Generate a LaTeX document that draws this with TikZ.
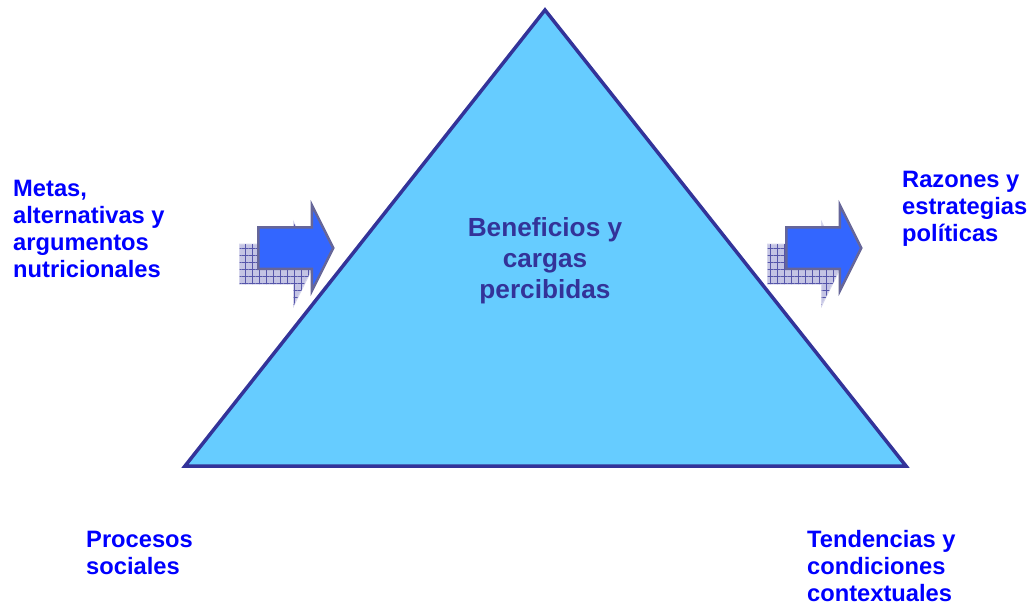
\documentclass[tikz,border=0pt]{standalone}
\usepackage{fontspec}
\setmainfont{Liberation Sans}
\usepackage{xcolor}
\usepackage{tikz}
\usetikzlibrary{shapes.arrows, patterns.meta}

\definecolor{txtblue}{HTML}{0000FF}
\definecolor{darkblue}{HTML}{333399}
\definecolor{skyblue}{HTML}{66CCFF}
\definecolor{arrowblue}{HTML}{3366FF}
\definecolor{arrowedge}{HTML}{666699}
\definecolor{shadowbg}{HTML}{C4C4E4}
\definecolor{shadowgrid}{HTML}{5555AA}

\begin{document}
\begin{tikzpicture}[
    x=1pt, y=-1pt,
    label/.style={font=\bfseries\fontsize{23.7}{27}\selectfont, text=txtblue, align=left, inner sep=0pt, anchor=north west},
    title/.style={font=\bfseries\fontsize{26.2}{31}\selectfont, text=darkblue, align=center, inner sep=0pt, anchor=north},
    blockarrow/.style={single arrow, minimum height=75pt, inner xsep=0pt, inner ysep=19.5pt,
        single arrow head extend=22pt, single arrow tip angle=127, anchor=tail},
    front/.style={blockarrow, fill=arrowblue, draw=arrowedge, line width=2.5pt},
    shadow/.style={blockarrow, fill=shadowbg, draw=shadowbg!70!white, line width=1pt,
        postaction={pattern={Lines[angle=0,distance=7pt,line width=0.8pt]}, pattern color=shadowgrid},
        postaction={pattern={Lines[angle=90,distance=7pt,line width=0.8pt]}, pattern color=shadowgrid}}
]

\useasboundingbox (0,0) rectangle (1029,605);

% Triangle
\coordinate (apex) at (545,10);
\coordinate (bl) at (185,466);
\coordinate (br) at (906,466);
\draw[fill=skyblue, draw=darkblue, line width=3.5pt, line join=miter] (apex) -- (bl) -- (br) -- cycle;

% Centre text
\node[title] (benef) at (545,215) {\strut Beneficios y\\cargas\\percibidas};

% Arrows
\node[shadow] (inshadow) at (239,264) {};
\node[front] (inarrow) at (257,248) {};
\node[shadow] (outshadow) at (767,264) {};
\node[front] (outarrow) at (785,248) {};

% Labels
\node[label] (metas) at (13,177.1) {\strut Metas,\\alternativas y\\argumentos\\nutricionales};
\node[label] (razones) at (902,168.1) {\strut Razones y\\estrategias\\políticas};
\node[label] (procesos) at (86,528.1) {\strut Procesos\\sociales};
\node[label] (tendencias) at (807,528.1) {\strut Tendencias y\\condiciones\\contextuales};

\end{tikzpicture}
\end{document}
